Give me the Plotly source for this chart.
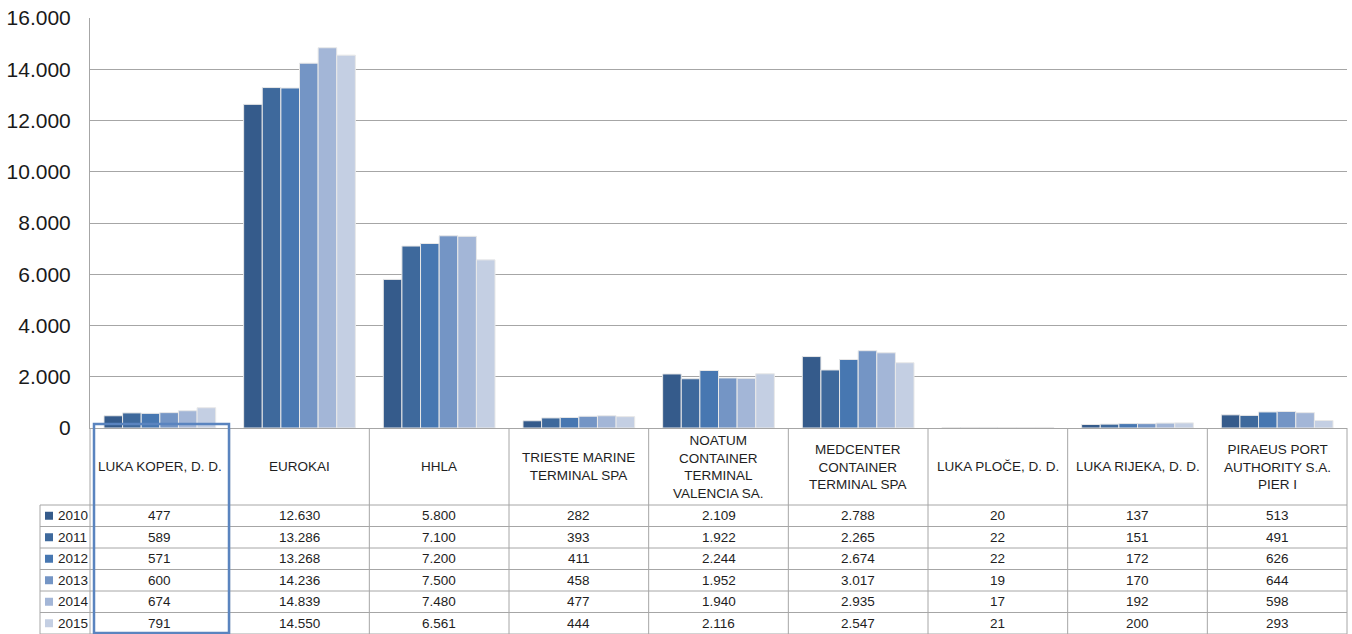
import plotly.graph_objects as go

# ---- data ----
categories = ["LUKA KOPER, D. D.", "EUROKAI", "HHLA", "TRIESTE MARINE TERMINAL SPA",
              "NOATUM CONTAINER TERMINAL VALENCIA SA.", "MEDCENTER CONTAINER TERMINAL SPA",
              "LUKA PLOČE, D. D.", "LUKA RIJEKA, D. D.", "PIRAEUS PORT AUTHORITY S.A. PIER I"]
header_labels = ["LUKA KOPER, D. D.", "EUROKAI", "HHLA", "TRIESTE MARINE<br>TERMINAL SPA",
                 "NOATUM<br>CONTAINER<br>TERMINAL<br>VALENCIA SA.", "MEDCENTER<br>CONTAINER<br>TERMINAL SPA",
                 "LUKA PLOČE, D. D.", "LUKA RIJEKA, D. D.", "PIRAEUS PORT<br>AUTHORITY S.A.<br>PIER I"]
years = ["2010", "2011", "2012", "2013", "2014", "2015"]
v2010 = [477, 12630, 5800, 282, 2109, 2788, 20, 137, 513]
v2011 = [589, 13286, 7100, 393, 1922, 2265, 22, 151, 491]
v2012 = [571, 13268, 7200, 411, 2244, 2674, 22, 172, 626]
v2013 = [600, 14236, 7500, 458, 1952, 3017, 19, 170, 644]
v2014 = [674, 14839, 7480, 477, 1940, 2935, 17, 192, 598]
v2015 = [791, 14550, 6561, 444, 2116, 2547, 21, 200, 293]
series = [v2010, v2011, v2012, v2013, v2014, v2015]
colors = ["#355b8b", "#3e699c", "#4777b1", "#7495c5", "#a3b6d7", "#c4cfe3"]

# ---- layout helpers (pixel -> paper) ----
W, H = 1352, 634
def px(x): return x / W
def py(y): return 1 - y / H

plot_left, plot_right, plot_top, plot_bottom = 90, 1347, 18, 428
header_bottom = 505
row_h = (634 - 505) / 6
legend_left = 40
grid = "#a6a6a6"
tfont = dict(family="Liberation Sans", size=13.5, color="#1e1e1e")

fig = go.Figure()
for yr, vals, c in zip(years, series, colors):
    fig.add_trace(go.Bar(x=categories, y=vals, name=yr,
                         marker=dict(color=c, line=dict(color="#e8e8e8", width=1))))

shapes = []
annotations = []
col_w = (plot_right - plot_left) / len(categories)
# vertical table lines
for i in range(len(categories) + 1):
    xx = plot_left + i * col_w
    shapes.append(dict(type="line", xref="paper", yref="paper", x0=px(xx), x1=px(xx),
                       y0=py(plot_bottom), y1=py(634), line=dict(color=grid, width=1)))
# legend column vertical line
shapes.append(dict(type="line", xref="paper", yref="paper", x0=px(legend_left), x1=px(legend_left),
                   y0=py(header_bottom), y1=py(634), line=dict(color=grid, width=1)))
# horizontal table lines
for r in range(7):
    yy = header_bottom + r * row_h
    shapes.append(dict(type="line", xref="paper", yref="paper", x0=px(legend_left), x1=px(plot_right),
                       y0=py(yy), y1=py(yy), line=dict(color=grid, width=1)))

# header labels
for i, lab in enumerate(header_labels):
    cx = plot_left + (i + 0.5) * col_w
    annotations.append(dict(x=px(cx), y=py((plot_bottom + header_bottom) / 2), xref="paper", yref="paper",
                            text=lab, showarrow=False, xanchor="center", yanchor="middle", font=tfont))
# data rows
for r, (yr, vals, c) in enumerate(zip(years, series, colors)):
    cy = header_bottom + (r + 0.5) * row_h
    shapes.append(dict(type="rect", xref="paper", yref="paper", x0=px(45), x1=px(53),
                       y0=py(cy - 4), y1=py(cy + 4), line=dict(width=0), fillcolor=c))
    annotations.append(dict(x=px(56), y=py(cy), xref="paper", yref="paper", text=yr, showarrow=False,
                            xanchor="left", yanchor="middle", font=tfont))
    for i, v in enumerate(vals):
        cx = plot_left + (i + 0.5) * col_w
        annotations.append(dict(x=px(cx), y=py(cy), xref="paper", yref="paper",
                                text=f"{v:,}".replace(",", "."), showarrow=False,
                                xanchor="center", yanchor="middle", font=tfont))

# highlight rectangle around first column
shapes.append(dict(type="rect", xref="paper", yref="paper", x0=px(94), x1=px(229),
                   y0=py(633), y1=py(424), line=dict(color="#5a84bf", width=2.5), fillcolor="rgba(0,0,0,0)"))

fig.update_layout(
    width=W, height=H, margin=dict(l=0, r=0, t=0, b=0, autoexpand=False),
    paper_bgcolor="white", plot_bgcolor="white",
    showlegend=False, barmode="group", bargap=0.2, bargroupgap=0,
    separators=",.",
    xaxis=dict(domain=[px(plot_left), px(plot_right)], showticklabels=False, ticks="",
               showline=True, linecolor=grid, linewidth=1, showgrid=False, automargin=False),
    yaxis=dict(domain=[py(plot_bottom), py(plot_top)], range=[0, 16000], dtick=2000,
               tickformat=",d", showgrid=True, gridcolor=grid, gridwidth=1,
               showline=True, linecolor=grid, linewidth=1, zeroline=False, automargin=False,
               ticks="", ticklabelstandoff=14,
               tickfont=dict(family="Liberation Sans", size=21, color="#1a1a1a")),
    shapes=shapes, annotations=annotations,
)

fig.write_html("out.html")
